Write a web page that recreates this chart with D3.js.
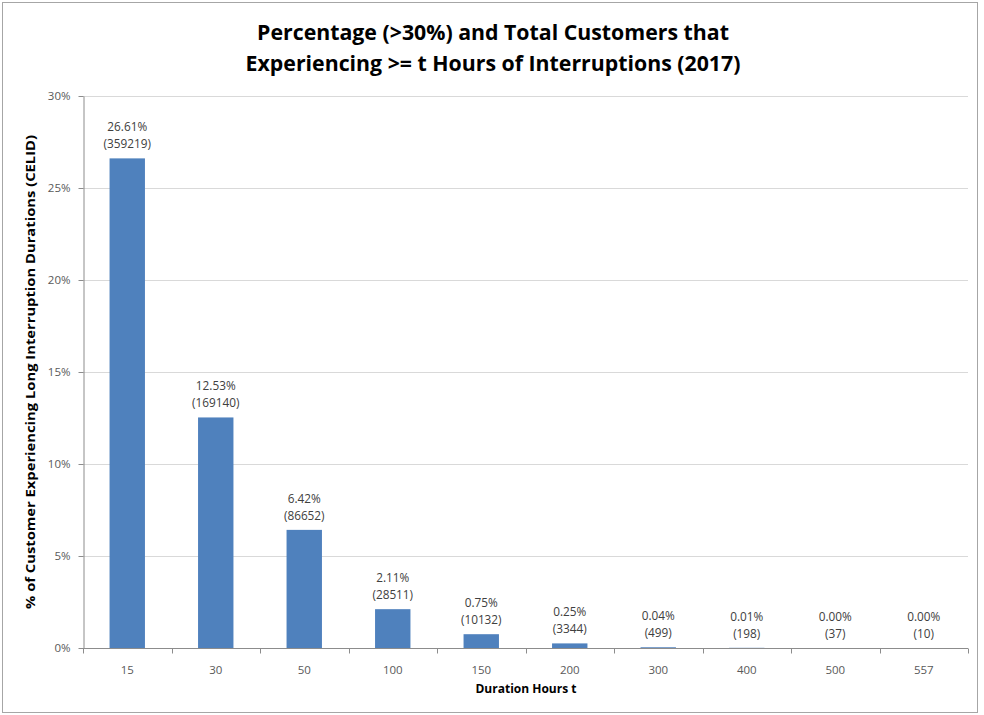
<!DOCTYPE html>
<meta charset="utf-8">
<head>
  <script src="https://d3js.org/d3.v7.min.js"></script>
  <style>
    body { margin: 0; background: #fff; font-family: 'Open Sans', sans-serif; }
  </style>
</head>
<body>
  <div id="chart"></div>
<script>
  // data
  const hours = ["15", "30", "50", "100", "150", "200", "300", "400", "500", "557"];
  const percents = [26.61, 12.53, 6.42, 2.11, 0.75, 0.25, 0.04, 0.01, 0.00, 0.00];
  const customers = [359219, 169140, 86652, 28511, 10132, 3344, 499, 198, 37, 10];
  const yTicks = [0, 5, 10, 15, 20, 25, 30];
  const titleLines = ["Percentage (>30%) and Total Customers that", "Experiencing >= t Hours of Interruptions (2017)"];

  const W = 984, H = 715;
  const margin = { top: 96, right: 16, bottom: 67, left: 83 };
  const width = W - margin.left - margin.right,
    height = H - margin.top - margin.bottom;

  const svg = d3.select("#chart").append("svg")
    .attr("width", W).attr("height", H);

  // outer frame
  svg.append("rect")
    .attr("x", 2.5).attr("y", 2.5)
    .attr("width", 975).attr("height", 710)
    .attr("fill", "#fff").attr("stroke", "#a6a6a6");

  svg.selectAll(".title")
    .data(titleLines)
    .enter().append("text")
    .attr("x", 493)
    .attr("y", (d, i) => 40 + i * 31)
    .attr("text-anchor", "middle")
    .attr("font-size", 21.3)
    .attr("font-weight", "bold")
    .attr("fill", "#000")
    .text(d => d);

  const g = svg.append("g")
    .attr("transform", "translate(" + margin.left + "," + margin.top + ")");

  const x = d3.scaleBand()
    .domain(hours)
    .range([0, width])
    .paddingInner(0.6)
    .paddingOuter(0.3);
  const y = d3.scaleLinear()
    .domain([0, 30])
    .range([height, 0]);

  // gridlines
  g.append("g")
    .selectAll("line")
    .data(yTicks.slice(1))
    .enter().append("line")
    .attr("x1", 0).attr("x2", width)
    .attr("y1", d => Math.round(y(d)) + 0.5)
    .attr("y2", d => Math.round(y(d)) + 0.5)
    .attr("stroke", "#d9d9d9");

  // y axis
  const yAxis = g.append("g")
    .attr("transform", "translate(0.5,0)")
    .call(d3.axisLeft(y).tickValues(yTicks).tickFormat(d => d + "%").tickSize(5).tickSizeOuter(0).tickPadding(8));
  yAxis.selectAll("line, path").attr("stroke", "#8c8c8c");
  yAxis.selectAll("text").attr("fill", "#595959").attr("font-size", 11.5).attr("font-family", "'Open Sans', sans-serif");

  // bars
  g.selectAll(".bar")
    .data(percents)
    .enter().append("rect")
    .attr("x", (d, i) => x(hours[i]))
    .attr("y", d => y(d))
    .attr("width", x.bandwidth())
    .attr("height", d => height - y(d))
    .attr("fill", "#4f81bd");

  // x axis with ticks at band boundaries
  const xAxis = g.append("g")
    .attr("transform", "translate(0," + (height + 0.5) + ")");
  xAxis.append("line")
    .attr("x1", 0).attr("x2", width)
    .attr("stroke", "#8c8c8c");
  xAxis.selectAll(".tk")
    .data(d3.range(hours.length + 1))
    .enter().append("line")
    .attr("x1", i => Math.round(i * x.step()) + 0.5)
    .attr("x2", i => Math.round(i * x.step()) + 0.5)
    .attr("y1", 0).attr("y2", 5)
    .attr("stroke", "#8c8c8c");
  xAxis.selectAll(".lbl")
    .data(hours)
    .enter().append("text")
    .attr("x", d => x(d) + x.bandwidth() / 2)
    .attr("y", 25)
    .attr("text-anchor", "middle")
    .attr("font-size", 11.5)
    .attr("fill", "#595959")
    .text(d => d);

  // value labels
  const labels = g.selectAll(".vlab")
    .data(percents)
    .enter().append("text")
    .attr("text-anchor", "middle")
    .attr("font-size", 11.8)
    .attr("fill", "#404040");
  labels.append("tspan")
    .attr("x", (d, i) => x(hours[i]) + x.bandwidth() / 2)
    .attr("y", d => y(d) - 27)
    .text(d => d.toFixed(2) + "%");
  labels.append("tspan")
    .attr("x", (d, i) => x(hours[i]) + x.bandwidth() / 2)
    .attr("y", d => y(d) - 10)
    .text((d, i) => "(" + customers[i] + ")");

  // axis titles
  svg.append("text")
    .attr("x", 526).attr("y", 693)
    .attr("text-anchor", "middle")
    .attr("font-size", 12)
    .attr("font-weight", "bold")
    .text("Duration Hours t");

  svg.append("text")
    .attr("transform", "translate(35," + (margin.top + height / 2) + ") rotate(-90)")
    .attr("text-anchor", "middle")
    .attr("font-size", 13)
    .attr("font-weight", "bold")
    .attr("textLength", 474)
    .attr("lengthAdjust", "spacingAndGlyphs")
    .text("% of Customer Experiencing Long Interruption Durations (CELID)");
</script>
</body>
